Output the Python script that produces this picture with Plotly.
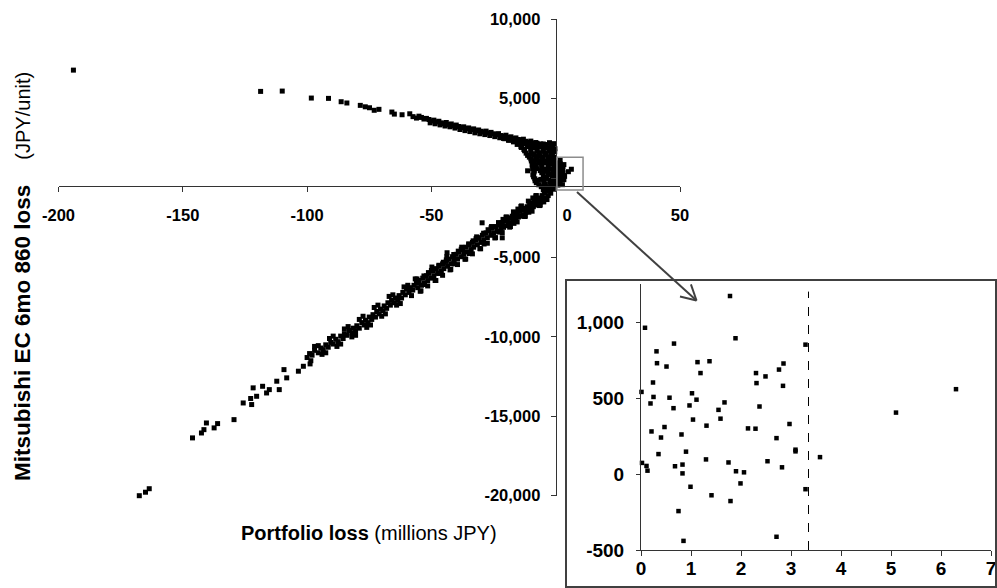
import math
import plotly.graph_objects as go

W, H = 997, 588

# ---------------- data ----------------
upper_x = [-194, -118.7, -110, -98.3, -91.4, -86.3, -84, -78.6, -76.6, -74.9, -73, -71.1, -65.9, -64.9, -61.8, -58.7, -57.4,
           -56, -55, -54, -53, -52, -51, -50, -49, -48, -47, -46, -45, -44, -43, -42, -41, -40, -39, -38, -37,
           -36, -35, -34, -33, -32, -31, -30, -29, -28, -27, -26, -25, -24, -23, -22, -21, -20, -19, -18, -17,
           -16, -15, -14, -13, -12, -11, -10, -9, -8, -7, -6, -5, -4, -3, -2, -1.5,
           -50.5, -48.5, -46.5, -44.5, -42.5, -40.5, -38.5, -36.5, -34.5, -32.5, -30.5, -28.5, -26.5, -24.5,
           -22.5, -20.5, -18.5, -16.5, -14.5, -12.5, -10.5,
           -21, -19, -17, -15.5, -14, -12.8]
upper_y = [6800, 5460, 5480, 5040, 5020, 4810, 4730, 4580, 4490, 4430, 4270, 4330, 4160, 4030, 3990, 4050, 3870,
           3780, 3900, 3820, 3720, 3760, 3690, 3600, 3650, 3540, 3580, 3480, 3430, 3500, 3370, 3410, 3300, 3340, 3250, 3180, 3230,
           3120, 3160, 3060, 3100, 2990, 3030, 2950, 2900, 2960, 2840, 2880, 2790, 2740, 2800, 2680, 2630, 2700, 2560, 2600, 2490,
           2530, 2430, 2380, 2450, 2320, 2250, 2330, 2180, 2240, 2080, 2150, 1960, 2100, 1880, 2000, 1750,
           3480, 3420, 3350, 3280, 3230, 3150, 3060, 2990, 2930, 2850, 2790, 2740, 2680, 2610,
           2540, 2480, 2400, 2330, 2260, 2170, 2100,
           2500, 2380, 2280, 2120, 1980, 1800]

core_x = [-15, -12.5, -10, -7.5, -5, -2.5, -0.5,
          -13.8, -11.3, -8.8, -6.3, -3.8, -1.3,
          -12.5, -10, -7.5, -5, -2.5, -0.4,
          -11.3, -8.8, -6.3, -3.8, -1.3,
          -10, -7.5, -5, -2.5, -0.4,
          -9.3, -6.8, -4.3, -1.8,
          -9.0, -5.6, -3.1, -0.6,
          -8.6, -6.2, -3.7, -1.2,
          -9.2, -5.0, -2.5, -0.4,
          -8.4, -6.0, -3.6, -1.2,
          -7.8, -4.8, -2.4, -0.3,
          -5.8, -3.4, -1.0,
          -11.3,
          -13.8, -11.3, -8.8, -6.3, -3.8, -1.3,
          -12.5, -10, -7.5, -5, -2.5, -0.3,
          -11.9, -9.4, -6.9, -4.4, -1.9,
          -10.6, -8.1, -5.6, -3.1, -0.8,
          -9.8, -8.6, -6.1, -3.6, -1.1,
          -9.5, -8, -5.5, -3, -0.6,
          -9.3, -7.4, -4.8, -2.4, -0.3,
          -8.8, -5.6, -3.0, -0.6,
          -8.9, -4.2, -1.5,
          -8.3, -7.0, -4.6, -2.0,
          -6.8, -4.2, -1.6,
          -4.6, -2.4, -0.5]
core_y = [2220, 2160, 2240, 2190, 2150, 2230, 2170,
          1930, 1990, 1920, 1970, 1910, 1980,
          1720, 1680, 1740, 1690, 1710, 1660,
          1430, 1480, 1420, 1470, 1440,
          1210, 1170, 1230, 1180, 1220,
          960, 930, 980, 920,
          690, 730, 680, 720,
          440, 470, 430, 460,
          210, 170, 230, 190,
          -40, -80, -20, -60,
          -290, -330, -270, -310,
          -540, -580, -520,
          460,
          2100, 2060, 2120, 2080, 2110, 2050,
          1820, 1860, 1800, 1840, 1790, 1850,
          1570, 1540, 1600, 1560, 1590,
          1320, 1350, 1300, 1340, 1310,
          1080, 1050, 1100, 1060, 1090,
          820, 850, 800, 840, 810,
          570, 600, 550, 590, 560,
          320, 340, 300, 330,
          80, 60, 100,
          -170, -140, -190, -150,
          -420, -400, -440,
          -650, -680, -630]

lower_x = [-1, -1.5, -2, -2.5, -3, -3.5, -4, -4.5, -5, -5.5, -6, -6.5, -7, -7.5, -8, -8.5, -9, -9.5, -10, -10.5,
           -11, -11.5, -12, -12.5, -13, -13.5, -14, -14.5, -15, -15.5, -16, -16.5, -17, -17.5, -18, -18.5, -19, -19.5,
           -20, -20.5, -21, -21.5, -22, -23, -23.5, -24, -25, -25.5, -26, -27, -27.5, -28, -29, -29.5, -30, -31,
           -31.5, -32, -33, -33.5, -34, -35, -35.5, -36, -37, -37.5, -38, -39, -39.5, -40, -41, -41.5, -42, -43,
           -43.5, -44, -45, -45.5, -46, -47, -47.5, -48, -49, -49.5, -50, -51, -51.5, -52, -53, -53.5, -54, -55,
           -55.5, -56, -29.6, -43.7, -21.5,
           -3.2, -6.2, -9.2, -12.2, -15.2, -18.2, -21.2, -24.2, -27.2, -30.2, -33.2, -36.2, -39.2, -42.2, -45.2,
           -48.2, -51.2, -54.2,
           -4.8, -7.8, -10.8, -13.8, -16.8, -19.8, -22.8, -25.8, -28.8, -31.8, -34.8, -37.8, -40.8, -43.8, -46.8,
           -49.8, -52.8, -55.8,
           -5, -8, -11, -14, -17, -20, -23, -26, -29, -32, -35, -38, -41, -44, -47, -50, -53,
           -3.5, -6.5, -9.5, -12.5, -15.5, -18.5, -21.5, -24.5, -27.5, -30.5, -33.5, -36.5, -39.5, -42.5, -45.5,
           -48.5, -51.5, -54.5,
           -57, -57.5, -58.5, -59, -60, -60.5, -61.5, -62, -63, -63.5, -64.5, -65, -66, -66.5, -67.5, -68, -69,
           -69.5, -70.5, -71, -72, -72.5, -73.5, -74, -75, -75.5, -76.5, -77, -78, -79, -80, -80.5, -81.5, -82,
           -83, -84, -85, -85.5, -86.5, -87.5, -88.5, -89.5, -90.5, -91.5, -92.5, -93.5, -94.5, -95.5, -97, -98,
           -99, -100,
           -58, -61, -64, -67, -70, -73, -76, -79, -82, -85, -88, -91, -94, -97,
           -56.5, -59.5, -62.5, -65.5, -68.5, -71.5, -74.5, -77.5, -80.5, -83.5, -86.5, -89.5, -92.5, -95.5, -98.5]
lower_y = [-700, -450, -950, -700, -1100, -800, -1250, -950, -1350, -1100, -1500, -1250, -1650, -1350, -1700, -1450,
           -1800, -1550, -1950, -1700, -2050, -1800, -2150, -1900, -2300, -2000, -2400, -2100, -2450, -2200, -2600,
           -2300, -2650, -2400, -2800, -2500, -2850, -2600, -3000, -2700, -3100, -2800, -3200, -2950, -3350, -3050,
           -3450, -3150, -3600, -3300, -3750, -3450, -3900, -3600, -4050, -3750, -4200, -3900, -4350, -4050, -4500,
           -4200, -4650, -4350, -4800, -4500, -4950, -4650, -5100, -4800, -5250, -4950, -5400, -5100, -5550, -5250,
           -5700, -5400, -5850, -5550, -6000, -5700, -6150, -5850, -6300, -6000, -6450, -6150, -6600, -6300, -6750,
           -6450, -6900, -6600, -2815, -4700, -3760,
           -550, -1700, -1250, -2400, -1950, -3050, -2600, -3750, -3250, -4450, -3950, -5100, -4600, -5750, -5300,
           -6450, -5950, -7100,
           -1500, -1100, -2150, -1750, -2850, -2450, -3400, -3050, -4150, -3700, -4750, -4350, -5400, -4950, -6000,
           -5600, -6700, -6350,
           -740, -1120, -1450, -1790, -2125, -2460, -2800, -3130, -3470, -3800, -4140, -4480, -4810, -5150, -5490,
           -5820, -6160,
           -1350, -1730, -2085, -2420, -2760, -3090, -3430, -3765, -4100, -4440, -4770, -5110, -5445, -5780, -6120,
           -6450, -6790, -7125,
           -6750, -7050, -6900, -7200, -7000, -7350, -7200, -7550, -7400, -7700, -7550, -7850, -7700, -8000, -7850,
           -8200, -8050, -8350, -8250, -8550, -8400, -8750, -8600, -8900, -8750, -9100, -8950, -9250, -9100, -9450,
           -9300, -9600, -9450, -9750, -9600, -9900, -9800, -10100, -9950, -10300, -10150, -10450, -10350, -10650,
           -10500, -10800, -10700, -11000, -10850, -11150, -11050, -11300,
           -7400, -6850, -8000, -7450, -8700, -8150, -9400, -8900, -10000, -9500, -10600, -10100, -11100, -10600,
           -6350, -6750, -7900, -7350, -8550, -8000, -9250, -8700, -9900, -9350, -10450, -9950, -11000, -10550, -11500]

far_x = [-98.8, -101.5, -103.5, -108.2, -109.3, -111.2, -112.2, -115.2, -116.3, -117.9, -120.3, -121.7, -122.7,
         -122.3, -125.7, -129.4, -136, -137.4, -140.5, -141.5, -142.5, -146.1, -163.5, -165, -167.5]
far_y = [-11700, -11850, -12160, -12580, -12060, -13320, -12790, -13320, -13530, -13110, -13740, -13210, -13880,
         -14260, -14160, -15210, -15460, -15730, -15420, -15840, -16050, -16360, -19560, -19780, -20000]

inset_x = [1.78, 0.08, 0.66, 1.89, 3.29, 0.31, 0.32, 0.51, 1.13, 1.37, 1.19, 0.24, 0.01, 0.25, 0.57, 1.02, 1.11,
           0.19, 0.97, 0.65, 1.67, 1.55, 1.59, 1.04, 1.31, 0.47, 0.21, 0.40, 0.81, 2.14, 2.29, 2.30, 2.31, 2.49,
           2.76, 2.85, 2.84, 2.37, 2.97, 2.71, 3.09, 3.09, 3.58, 5.10, 6.30, 0.35, 0.90, 1.30, 1.75, 2.53, 2.82,
           1.90, 2.06, 0.02, 0.11, 0.13, 0.68, 0.83, 0.83, 0.99, 1.99, 3.29, 1.41, 1.79, 0.75, 0.85, 2.71]
inset_y = [1171, 962, 858, 893, 851, 807, 729, 707, 736, 742, 664, 602, 540, 507, 502, 531, 489,
           464, 451, 433, 471, 422, 364, 358, 318, 309, 280, 240, 260, 300, 298, 664, 598, 642,
           687, 727, 580, 444, 329, 236, 160, 149, 111, 404, 558, 131, 147, 96, 76, 84, 44,
           18, 11, 73, 53, 22, 51, 62, 4, -84, -62, -100, -140, -178, -244, -440, -413]

main_xticks = [-200, -150, -100, -50, 0, 50]
main_xlabels = ["-200", "-150", "-100", "-50", "\u00a0\u00a0\u00a0\u00a0\u00a00", "50"]
main_yticks = [10000, 5000, 0, -5000, -10000, -15000, -20000]
main_ylabels = ["10,000", "5,000", "", "-5,000", "-10,000", "-15,000", "-20,000"]
inset_xticks = [0, 1, 2, 3, 4, 5, 6, 7]
inset_xlabels = ["0", "1", "2", "3", "4", "5", "6", "7"]
inset_yticks = [-500, 0, 500, 1000]
inset_ylabels = ["-500", "0", "500", "1,000"]

threshold_x = 3.35
x_title = "<b>Portfolio loss</b> (millions JPY)"
y_title = ("<b>Mitsubishi EC 6mo 860 loss</b>\u00a0\u00a0\u00a0\u00a0"
           "<span style='font-size:20px'>(JPY/unit)</span>")

# ---------------- layout geometry (pixels) ----------------
MX0, MX1 = 58.5, 680.0
MY0, MY1 = 19.3, 495.7
IX0, IX1 = 641.0, 991.0
IY0, IY1 = 284.0, 550.0
main_xr = [-200, 50]
main_yr = [-20000, 10000]
inset_xr = [0, 7]
inset_yr = [-500, 1250]

def px(xp):
    return xp / W

def py(yp):
    return 1 - yp / H

xdom = [px(MX0), px(MX1)]
ydom = [py(MY1), py(MY0)]
xaxis_pos = ydom[0] + (-500 - main_yr[0]) / (main_yr[1] - main_yr[0]) * (ydom[1] - ydom[0])
yaxis_pos = xdom[0] + (0 - main_xr[0]) / (main_xr[1] - main_xr[0]) * (xdom[1] - xdom[0])

FONT = "Liberation Sans, Arial, sans-serif"
AXC = "#333333"
tickfont_main = dict(family=FONT, size=16.5, color="black", weight="bold")
tickfont_inset = dict(family=FONT, size=19, color="black", weight="bold")

fig = go.Figure()
fig.add_trace(go.Scatter(
    x=upper_x + core_x + lower_x + far_x + inset_x,
    y=upper_y + core_y + lower_y + far_y + inset_y,
    mode="markers", marker=dict(symbol="square", size=5, color="black", line=dict(width=0)),
    xaxis="x", yaxis="y", cliponaxis=False, showlegend=False, hoverinfo="skip"))
fig.add_trace(go.Scatter(
    x=inset_x, y=inset_y,
    mode="markers", marker=dict(symbol="square", size=4.5, color="black", line=dict(width=0)),
    xaxis="x2", yaxis="y2", cliponaxis=False, showlegend=False, hoverinfo="skip"))

common = dict(showgrid=False, zeroline=False, showline=True, linecolor=AXC, linewidth=1,
              ticks="outside", tickcolor=AXC, tickwidth=1, automargin=False)

fig.update_layout(
    width=W, height=H,
    margin=dict(l=0, r=0, t=0, b=0, autoexpand=False),
    paper_bgcolor="white", plot_bgcolor="rgba(0,0,0,0)",
    showlegend=False,
    xaxis=dict(domain=xdom, range=main_xr, anchor="free", position=xaxis_pos, ticklen=5,
               tickvals=main_xticks, ticktext=main_xlabels, tickfont=tickfont_main,
               ticklabelstandoff=9, **common),
    yaxis=dict(domain=ydom, range=main_yr, anchor="free", position=yaxis_pos, ticklen=5,
               tickvals=main_yticks, ticktext=main_ylabels, tickfont=tickfont_main,
               ticklabelstandoff=7, **common),
    xaxis2=dict(domain=[px(IX0), px(IX1)], range=inset_xr, anchor="y2", ticklen=5,
                tickvals=inset_xticks, ticktext=inset_xlabels, tickfont=tickfont_inset,
                ticklabelstandoff=-4, **common),
    yaxis2=dict(domain=[py(IY1), py(IY0)], range=inset_yr, anchor="x2", ticklen=4,
                tickvals=inset_yticks, ticktext=inset_ylabels, tickfont=tickfont_inset,
                ticklabelstandoff=8, **common),
)

fig.add_annotation(text=x_title, xref="paper", yref="paper", x=px(369), y=py(533),
                   xanchor="center", yanchor="middle", showarrow=False,
                   font=dict(family=FONT, size=20, color="black"))
fig.add_annotation(text=y_title, xref="paper", yref="paper", x=px(22), y=py(277),
                   xanchor="center", yanchor="middle", showarrow=False, textangle=-90,
                   font=dict(family=FONT, size=22.5, color="black"))

# zoom box on the main chart
fig.add_shape(type="rect", xref="x", yref="y", x0=0.5, x1=11, y0=-750, y1=1320,
              line=dict(color="#8c8c8c", width=1.5), fillcolor="rgba(0,0,0,0)")
# inset frame
fig.add_shape(type="rect", xref="paper", yref="paper", x0=px(566), x1=px(996), y0=py(587), y1=py(280),
              line=dict(color="#404040", width=2), fillcolor="rgba(0,0,0,0)")
# threshold line in inset
fig.add_shape(type="line", xref="x2", yref="y2", x0=threshold_x, x1=threshold_x, y0=-500, y1=1200,
              line=dict(color="black", width=1, dash="dash"))

# arrow from zoom box to inset (open V head)
sx, sy = 577.0, 192.0
tx, ty = 696.5, 300.5
fig.add_shape(type="line", xref="paper", yref="paper", x0=px(sx), y0=py(sy), x1=px(tx), y1=py(ty),
              line=dict(color="#404040", width=2))
ang = math.atan2(sy - ty, sx - tx)
for d in (0.5, -0.5):
    wx = tx + 17 * math.cos(ang + d)
    wy = ty + 17 * math.sin(ang + d)
    fig.add_shape(type="line", xref="paper", yref="paper", x0=px(tx), y0=py(ty), x1=px(wx), y1=py(wy),
                  line=dict(color="#404040", width=2))

fig.write_html("out.html")
